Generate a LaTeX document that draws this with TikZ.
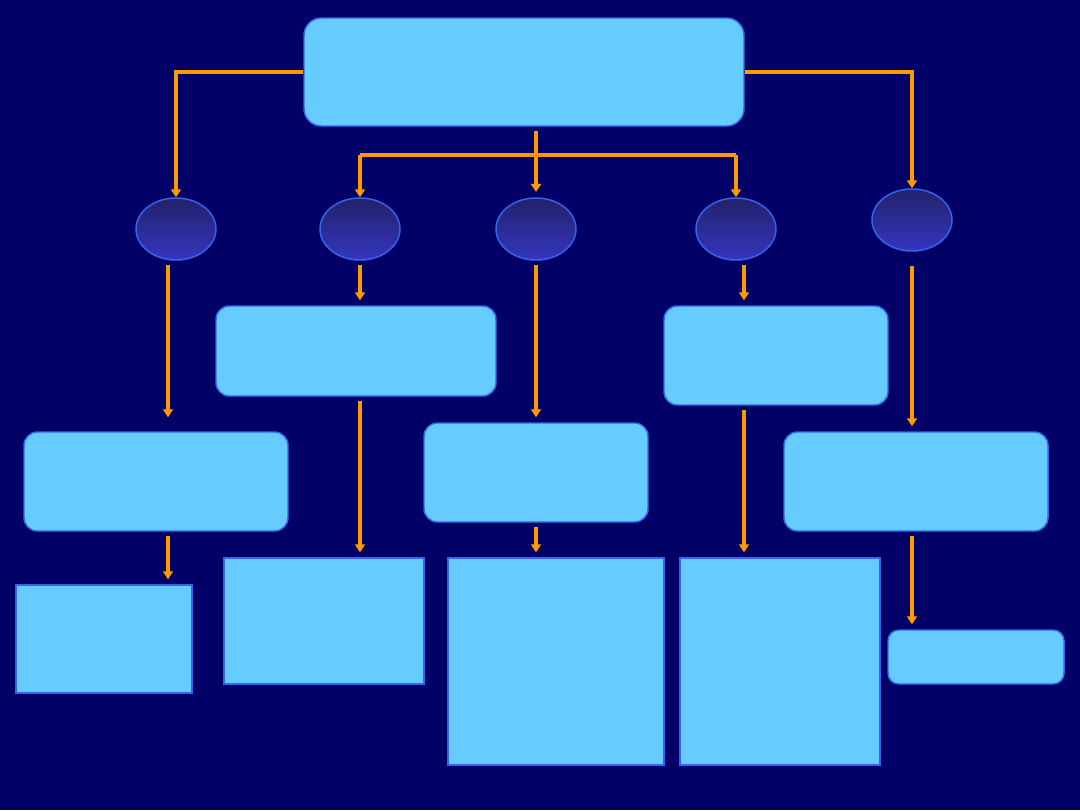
\documentclass[tikz,border=0pt]{standalone}
\usetikzlibrary{arrows.meta,shapes.geometric}
\definecolor{bg}{HTML}{000066}
\definecolor{boxfill}{HTML}{66CCFF}
\definecolor{boxline}{HTML}{3366EE}
\definecolor{conn}{HTML}{FF9900}
\definecolor{elltop}{HTML}{22226A}
\definecolor{ellbot}{HTML}{3535C0}
\tikzset{
  rbox/.style={draw=boxline, fill=boxfill, line width=1.1pt, rounded corners=10pt, inner sep=0pt},
  sbox/.style={draw=boxline, fill=boxfill, line width=1.1pt, inner sep=0pt},
  oval/.style={ellipse, draw=boxline, line width=1.1pt, top color=elltop, bottom color=ellbot, inner sep=0pt, minimum width=60pt, minimum height=46.5pt},
  wire/.style={draw=conn, line width=2.4pt},
  arr/.style={wire, -{Triangle[length=6pt,width=7.5pt]}},
}
\begin{document}
\begin{tikzpicture}[x=0.75pt,y=-0.75pt]
\fill[bg] (0,0) rectangle (1080,810);
\useasboundingbox (0,0) rectangle (1080,810);
% top
\node[rbox, rounded corners=13pt, minimum width=330pt, minimum height=81pt] (top) at (524,72) {};
% ellipses
\node[oval] (e1) at (176,229) {};
\node[oval] (e2) at (360,229) {};
\node[oval] (e3) at (536,229) {};
\node[oval] (e4) at (736,229) {};
\node[oval] (e5) at (912,220) {};
% row 2
\node[rbox, minimum width=210pt, minimum height=67.5pt] (b2) at (356,351) {};
\node[rbox, minimum width=168pt, minimum height=74.25pt] (b4) at (776,355.5) {};
% row 3
\node[rbox, minimum width=198pt, minimum height=74.25pt] (l1) at (156,481.5) {};
\node[rbox, minimum width=168pt, minimum height=74.25pt] (c3) at (536,472.5) {};
\node[rbox, minimum width=198pt, minimum height=74.25pt] (r5) at (916,481.5) {};
% row 4
\node[sbox, minimum width=132pt, minimum height=81pt] (q1) at (104,639) {};
\node[sbox, minimum width=150pt, minimum height=94.5pt] (q2) at (324,621) {};
\node[sbox, minimum width=162pt, minimum height=155.25pt] (q3) at (556,661.5) {};
\node[sbox, minimum width=150pt, minimum height=155.25pt] (q4) at (780,661.5) {};
\node[rbox, rounded corners=8pt, minimum width=132pt, minimum height=40.5pt] (q5) at (976,657) {};
% connectors from top
\coordinate (hub) at (536,155);
\draw[arr] (top.west) -| (e1.north);
\draw[arr] (top.east) -| (e5.north);
\draw[arr, shorten <=3pt, shorten >=4pt] (e3.north |- top.south) -- (e3.north);
\draw[wire] (e2.north |- hub) -- (e4.north |- hub);
\draw[arr] (e2.north |- hub) -- (e2.north);
\draw[arr] (e4.north |- hub) -- (e4.north);
% from ellipses
\draw[arr, shorten <=3.5pt, shorten >=10.5pt] ([xshift=-6pt]e1.south) -- ([xshift=-6pt]e1.south |- l1.north);
\draw[arr, shorten <=3.5pt, shorten >=3.75pt] (e2.south) -- (e2.south |- b2.north);
\draw[arr, shorten <=3.5pt, shorten >=3.75pt] (e3.south) -- (e3.south |- c3.north);
\draw[arr, shorten <=3.5pt, shorten >=3.75pt] ([xshift=6pt]e4.south) -- ([xshift=6pt]e4.south |- b4.north);
\draw[arr, shorten <=10.5pt, shorten >=3.75pt] (e5.south) -- (e5.south |- r5.north);
% to bottom row
\draw[arr, shorten <=3pt, shorten >=3.75pt] (e2.south |- b2.south) -- (e2.south |- q2.north);
\draw[arr, shorten <=3pt, shorten >=3.75pt] (c3.south) -- (c3.south |- q3.north);
\draw[arr, shorten <=3pt, shorten >=3.75pt] ([xshift=6pt]e4.south |- b4.south) -- ([xshift=6pt]e4.south |- q4.north);
\draw[arr, shorten <=3pt, shorten >=3.75pt] ([xshift=-6pt]e1.south |- l1.south) -- ([xshift=-6pt]e1.south |- q1.north);
\draw[arr, shorten <=3pt, shorten >=3.75pt] (e5.south |- r5.south) -- (e5.south |- q5.north);
\end{tikzpicture}
\end{document}
